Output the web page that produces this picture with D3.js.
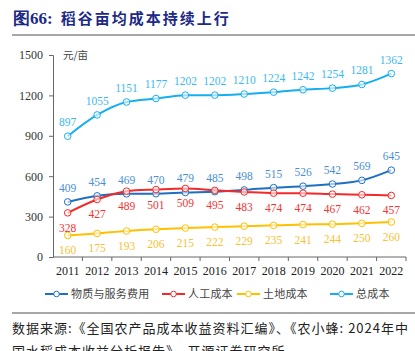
<!DOCTYPE html>
<html><head><meta charset="utf-8">
<script src="https://cdn.jsdelivr.net/npm/d3@7"></script>
<style>
body{margin:0;background:#fff;}
svg{display:block;}
</style></head>
<body>
<svg id="c" width="415" height="351"></svg>
<script>
const years = ["2011","2012","2013","2014","2015","2016","2017","2018","2019","2020","2021","2022"];
const material = [409,454,469,470,479,485,498,515,526,542,569,645];
const labor = [328,427,489,501,509,495,483,474,474,467,462,457];
const land = [160,175,193,206,215,222,229,235,241,244,250,260];
const total = [897,1055,1151,1177,1202,1202,1210,1224,1242,1254,1281,1362];
const yTicks = [0,300,600,900,1200,1500];
const seriesNames = ["物质与服务费用","人工成本","土地成本","总成本"];

const series = [
  {name:seriesNames[0], values:material, color:"#1f6fc2", label:"#4a8fd3", pos:"above"},
  {name:seriesNames[1], values:labor, color:"#f22a2a", label:"#f03535", pos:"below"},
  {name:seriesNames[2], values:land, color:"#ffc000", label:"#f7c234", pos:"below"},
  {name:seriesNames[3], values:total, color:"#16aef0", label:"#3db8f0", pos:"above"}
];

const svg = d3.select("#c");
const serif = "'Liberation Serif','Times New Roman',serif";
const cjk = "'Noto Sans CJK SC','Noto Sans',sans-serif";

// title
const title = svg.append("text").attr("x",13).attr("y",24)
  .attr("fill","#1c2a85").attr("font-weight","bold");
title.append("tspan").attr("font-family",serif).attr("font-size",17).text("图66:");
title.append("tspan").attr("font-family",cjk).attr("font-size",15).attr("letter-spacing",2).attr("dx",8).text("稻谷亩均成本持续上行");
svg.append("line").attr("x1",12).attr("x2",415).attr("y1",35).attr("y2",35)
  .attr("stroke","#8a8a8a").attr("stroke-width",1.5);

const x0 = 53, x1 = 406, yb = 257, yt = 55;
const band = d3.scaleBand().domain(years).range([x0,x1]).padding(0);
const x = d => band(d) + band.bandwidth()/2;
const y = d3.scaleLinear().domain([0,1500]).range([yb,yt]);

// y axis
const yAxis = svg.append("g").attr("transform",`translate(${x0},0)`)
  .call(d3.axisLeft(y).tickValues(yTicks).tickSize(4).tickPadding(6).tickFormat(d3.format("d")));
yAxis.selectAll("text").attr("font-family",serif).attr("font-size",12).attr("fill","#333");
yAxis.selectAll("line,path").attr("stroke","#666");

// x axis
const xAxis = svg.append("g").attr("transform",`translate(0,${yb})`)
  .call(d3.axisBottom(band).tickSize(0).tickPadding(9));
xAxis.selectAll("text").attr("font-family",serif).attr("font-size",12).attr("fill","#222");
xAxis.select("path").attr("stroke","#666").attr("d",`M${x0},0H${x1}`);
xAxis.selectAll(".sep").data(years.slice(1).concat(["end"])).join("line")
  .attr("x1",(d,i)=> i<years.length-1 ? band(d) : x1)
  .attr("x2",(d,i)=> i<years.length-1 ? band(d) : x1)
  .attr("y1",0).attr("y2",4).attr("stroke","#666");

// unit
svg.append("text").attr("x",63).attr("y",59).attr("font-family",cjk).attr("font-size",10.5)
  .attr("fill","#444").text("元/亩");

const line = d3.line().x((d,i)=>x(years[i])).y(d=>y(d)).curve(d3.curveMonotoneX);

series.forEach(s=>{
  svg.append("path").attr("d",line(s.values)).attr("fill","none")
    .attr("stroke",s.color).attr("stroke-width",2);
  svg.append("g").selectAll("circle").data(s.values).join("circle")
    .attr("cx",(d,i)=>x(years[i])).attr("cy",d=>y(d)).attr("r",3.3)
    .attr("fill","#fff").attr("fill-opacity",0.6).attr("stroke",s.color).attr("stroke-width",1);
  svg.append("g").selectAll("text").data(s.values).join("text")
    .attr("x",(d,i)=>x(years[i])).attr("y",d=>y(d) + (s.pos==="above" ? -10 : 19))
    .attr("text-anchor","middle").attr("font-family",serif).attr("font-size",11.5)
    .attr("fill",s.label).text(d=>d);
});

// legend
const legX = [45,162,237,330];
series.forEach((s,i)=>{
  const g = svg.append("g").attr("transform",`translate(${legX[i]},294)`);
  g.append("line").attr("x1",0).attr("x2",23).attr("stroke",s.color).attr("stroke-width",2);
  g.append("circle").attr("cx",11.5).attr("r",2.8).attr("fill","#fff").attr("stroke",s.color).attr("stroke-width",1);
  g.append("text").attr("x",26).attr("y",4).attr("font-family",cjk).attr("font-size",11)
    .attr("letter-spacing",0.2).attr("fill","#444").text(s.name);
});

svg.append("line").attr("x1",12).attr("x2",415).attr("y1",313).attr("y2",313)
  .attr("stroke","#8a8a8a").attr("stroke-width",1.5);
svg.append("text").attr("x",12).attr("y",333).attr("font-family",cjk).attr("font-size",13)
  .attr("letter-spacing",1).attr("fill","#222").text("数据来源:《全国农产品成本收益资料汇编》、《农小蜂: 2024年中");
svg.append("text").attr("x",12).attr("y",356).attr("font-family",cjk).attr("font-size",13)
  .attr("letter-spacing",1).attr("fill","#222").text("国水稻成本收益分析报告》、开源证券研究所");
</script>
</body></html>
